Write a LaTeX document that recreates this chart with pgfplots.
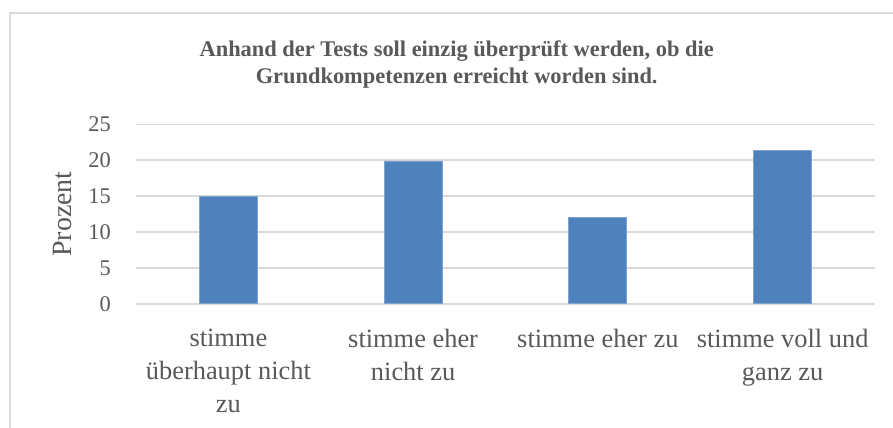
\documentclass[border=0pt]{standalone}
\usepackage{fontspec}
\setmainfont{Liberation Serif}
\usepackage{pgfplots}
\pgfplotsset{compat=1.18}
\definecolor{barblue}{HTML}{4F81BD}
\definecolor{baredge}{HTML}{7FA3D0}
\definecolor{gridc}{HTML}{D9D9D9}
\definecolor{txt}{HTML}{595959}
\begin{document}
\begin{tikzpicture}
\useasboundingbox (0,0) rectangle (893bp,428bp);
\fill[white] (0,0) rectangle (893bp,428bp);
\draw[gridc, line width=1.5bp] (10bp,-20bp) -- (10bp,415bp) -- (920bp,415bp);
\node[anchor=base, text=txt, font=\fontsize{22.5}{26}\selectfont\bfseries] at (456.7bp,371bp) {Anhand der Tests soll einzig überprüft werden, ob die};
\node[anchor=base, text=txt, font=\fontsize{22.5}{26}\selectfont\bfseries] at (456.7bp,344.7bp) {Grundkompetenzen erreicht worden sind.};
\node[rotate=90, text=txt, font=\fontsize{28}{32}\selectfont] at (62.5bp,214bp) {Prozent};
\begin{axis}[
  at={(136bp,124.2bp)}, anchor=south west,
  scale only axis, width=739bp, height=179.5bp,
  xmin=-0.5, xmax=3.5, ymin=0, ymax=25,
  ytick={0,5,10,15,20,25},
  xtick={0,1,2,3},
  xticklabels={{stimme\\überhaupt nicht\\zu},{stimme eher\\nicht zu},{stimme eher zu},{stimme voll und\\ganz zu}},
  axis line style={draw=none},
  major tick length=0pt,
  ymajorgrids, grid style={gridc, line width=1.5bp},
  /pgf/number format/assume math mode=true,
  yticklabel style={text=txt, font=\fontsize{22.5}{26}\selectfont, anchor=east, inner sep=0pt, xshift=-25bp},
  xticklabel style={text=txt, font=\fontsize{26.5}{33}\selectfont, align=center, anchor=north, inner sep=0pt, yshift=-25bp},
  ybar, bar width=58bp,
]
\addplot[fill=barblue, draw=baredge, line width=0.8bp] coordinates {(0,14.9) (1,19.9) (2,12.0) (3,21.3)};
\end{axis}
\end{tikzpicture}
\end{document}
